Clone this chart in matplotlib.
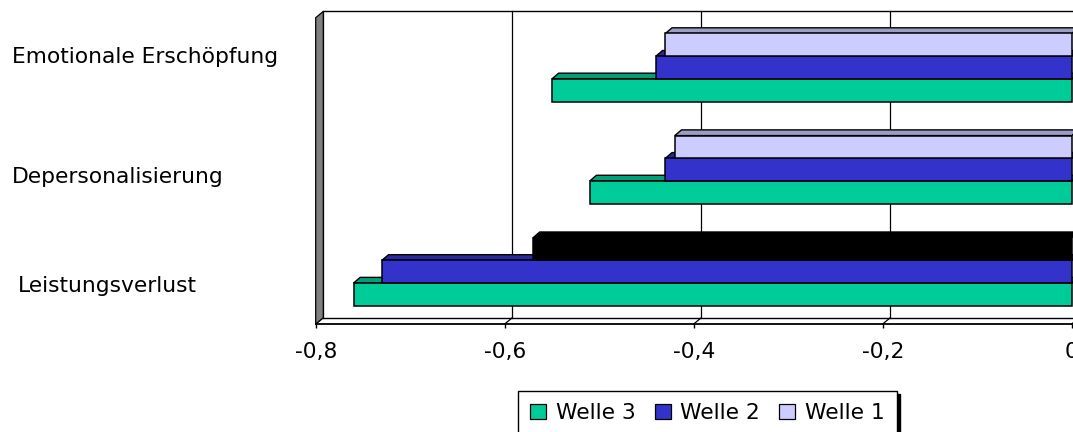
import matplotlib
matplotlib.use("Agg")
import matplotlib.pyplot as plt
from matplotlib.patches import Polygon, Patch

# --- data -----------------------------------------------------------------
categories = ["Leistungsverlust", "Depersonalisierung", "Emotionale Erschöpfung"]
series_names = ["Welle 3", "Welle 2", "Welle 1"]
welle3 = [-0.76, -0.51, -0.55]
welle2 = [-0.73, -0.43, -0.44]
welle1 = [-0.57, -0.42, -0.43]
xticks = [-0.8, -0.6, -0.4, -0.2, 0.0]
xtick_labels = ["-0,8", "-0,6", "-0,4", "-0,2", "0"]

# --- styling --------------------------------------------------------------
front_colors = ["#00CC99", "#3333CC", "#CCCCFF"]
top_colors = ["#00A07A", "#2828A0", "#9C9CC4"]
# single bar drawn in black: (series index, category index)
point_override = {(2, 0): ("#000000", "#000000")}
FS = 15.7
W, H = 1073, 432

fig = plt.figure(figsize=(W / 100, H / 100), dpi=100)
fig.patch.set_facecolor("white")
ax = fig.add_axes([315.7 / W, (H - 324) / H, 756 / W, 306.3 / H])
ax.set_xlim(-0.8, 0.0)
ax.set_ylim(-0.512, 2.488)
ax.set_facecolor("none")
for side in ("top", "right", "left"):
    ax.spines[side].set_visible(False)
ax.spines["bottom"].set_linewidth(1.3)
ax.set_yticks([])
ax.set_xticks(xticks, xtick_labels)
ax.tick_params(axis="x", length=3, width=1, pad=10, labelsize=FS, colors="black")


def depth(dx_px, dy_px):
    """Convert a pixel offset into data units of ax."""
    ox, oy = ax.transData.transform((0.0, 0.0))
    return tuple(ax.transData.inverted().transform((ox + dx_px, oy + dy_px)))


xmin, xmax = ax.get_xlim()
ymin, ymax = ax.get_ylim()
wdx, wdy = depth(7.6, 6.3)   # wall depth
bdx, bdy = depth(6.7, 5.7)   # bar depth

# back wall gridlines, top edge, back floor edge
for xv in xticks:
    ax.plot([xv + wdx, xv + wdx], [ymin + wdy, ymax + wdy], color="black",
            lw=0.9, clip_on=False, zorder=1)
    ax.plot([xv, xv + wdx], [ymin, ymin + wdy], color="black",
            lw=0.9, clip_on=False, zorder=1)
ax.plot([xmin + wdx, xmax + 2 * wdx], [ymax + wdy, ymax + wdy], color="black",
        lw=1.0, clip_on=False, zorder=1)
ax.plot([xmin + wdx, xmax + 2 * wdx], [ymin + wdy, ymin + wdy], color="black",
        lw=1.0, clip_on=False, zorder=1)

# grey side wall
ax.add_patch(Polygon([(xmin, ymin), (xmin, ymax), (xmin + wdx, ymax + wdy),
                      (xmin + wdx, ymin + wdy)], closed=True,
                     facecolor="#808080", edgecolor="black", lw=0.9,
                     clip_on=False, zorder=1.5))

# bars
bar_h = 2.0 / 9.0
offsets = [-bar_h, 0.0, bar_h]
series = [welle3, welle2, welle1]
ypos = list(range(len(categories)))
for si, values in enumerate(series):
    fronts, tops = [], []
    for ci in range(len(categories)):
        f, t = point_override.get((si, ci), (front_colors[si], top_colors[si]))
        fronts.append(f)
        tops.append(t)
    z = 2 + si * 0.2
    centers = [y + offsets[si] for y in ypos]
    for c, v, tc in zip(centers, values, tops):
        top = c + bar_h / 2
        ax.add_patch(Polygon([(v, top), (v + bdx, top + bdy), (0 + bdx, top + bdy),
                              (0, top)], closed=True, facecolor=tc,
                             edgecolor="black", lw=1.0, clip_on=False, zorder=z))
    ax.barh(centers, values, height=bar_h, color=fronts, edgecolor="black",
            linewidth=1.1, zorder=z + 0.1, clip_on=False)

# category labels
label_pos = [(18, 291.7), (12, 183.3), (12, 63.3)]
for text, (xp, yp) in zip(categories, label_pos):
    fig.text(xp / W, 1 - yp / H, text, fontsize=FS, ha="left", va="baseline",
             color="black")

# legend
handles = [Patch(facecolor=c, edgecolor="black", lw=0.9) for c in front_colors]
leg = fig.legend(handles, series_names, loc="upper center",
                 bbox_to_anchor=(707.5 / W, 1 - 391 / H), ncol=3, frameon=True,
                 fancybox=False, edgecolor="black", framealpha=1,
                 shadow={"color": "black", "alpha": 1}, fontsize=FS,
                 handlelength=0.73, handleheight=0.73, handletextpad=0.45,
                 columnspacing=0.88, borderpad=0.55, borderaxespad=0)
leg.get_frame().set_linewidth(1.0)

fig.savefig("out.png", dpi=100, facecolor="white")
